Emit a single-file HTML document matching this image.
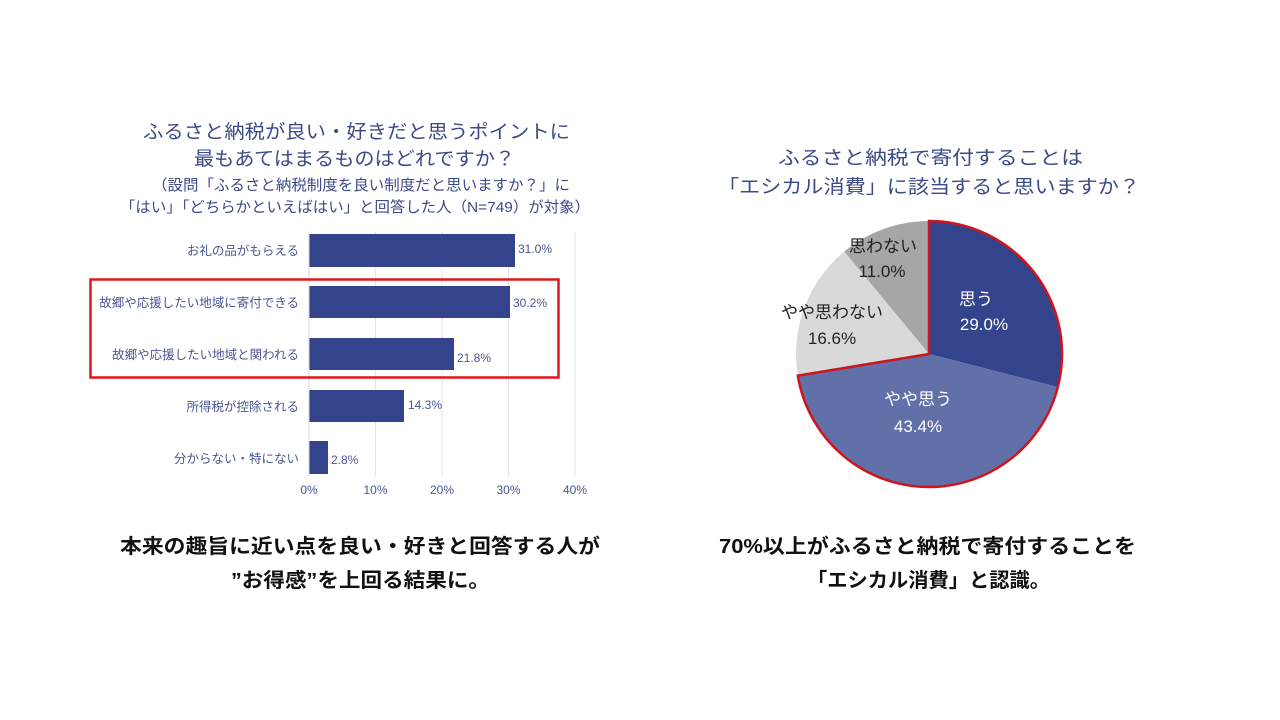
<!DOCTYPE html>
<html><head><meta charset="utf-8"><style>
html,body{margin:0;padding:0;background:#fff;}
svg{display:block;}
text{font-family:"Liberation Sans","Noto Sans CJK JP",sans-serif;}
.t{fill:#3d4a86;font-size:19px;}
.s{fill:#3d4a86;font-size:15px;}
.c{fill:#4a5590;font-size:12.5px;}
.v{fill:#4a5590;font-size:12px;}
.b{fill:#111;font-size:20px;font-weight:bold;}
.p{font-size:17px;}
</style></head><body>
<svg width="1280" height="720" viewBox="0 0 1280 720">
<rect width="1280" height="720" fill="#fff"/>
<!-- left titles -->
<text class="t" x="143" y="138" textLength="427" lengthAdjust="spacingAndGlyphs">ふるさと納税が良い・好きだと思うポイントに</text>
<text class="t" x="194" y="165" textLength="321" lengthAdjust="spacingAndGlyphs">最もあてはまるものはどれですか？</text>
<text class="s" x="152" y="190" textLength="418" lengthAdjust="spacingAndGlyphs">（設問「ふるさと納税制度を良い制度だと思いますか？」に</text>
<text class="s" x="120" y="212" textLength="470" lengthAdjust="spacingAndGlyphs">「はい」「どちらかといえばはい」と回答した人（N=749）が対象）</text>
<!-- grid -->
<g stroke="#e3e3e8" stroke-width="1">
<line x1="375.5" y1="232" x2="375.5" y2="476"/><line x1="442" y1="232" x2="442" y2="476"/>
<line x1="508.5" y1="232" x2="508.5" y2="476"/><line x1="575" y1="232" x2="575" y2="476"/>
</g>
<g fill="#33438c">
<rect x="309" y="234" width="206" height="33"/>
<rect x="309" y="286" width="201" height="32"/>
<rect x="309" y="338" width="145" height="32"/>
<rect x="309" y="390" width="95" height="32"/>
<rect x="309" y="441" width="19" height="33"/>
</g>
<line x1="309" y1="232" x2="309" y2="476" stroke="#d8d8de"/>
<g text-anchor="end">
<text class="c" x="299" y="255">お礼の品がもらえる</text>
<text class="c" x="299" y="307">故郷や応援したい地域に寄付できる</text>
<text class="c" x="299" y="359">故郷や応援したい地域と関われる</text>
<text class="c" x="299" y="411">所得税が控除される</text>
<text class="c" x="299" y="463">分からない・特にない</text>
</g>
<text class="v" x="518" y="253">31.0%</text>
<text class="v" x="513" y="307">30.2%</text>
<text class="v" x="457" y="362">21.8%</text>
<text class="v" x="408" y="409">14.3%</text>
<text class="v" x="331" y="464">2.8%</text>
<g text-anchor="middle">
<text class="v" x="309" y="494">0%</text><text class="v" x="375.5" y="494">10%</text>
<text class="v" x="442" y="494">20%</text><text class="v" x="508.5" y="494">30%</text>
<text class="v" x="575" y="494">40%</text>
</g>
<rect x="90.5" y="279.5" width="468" height="98" fill="none" stroke="#e0161c" stroke-width="2.5"/>
<!-- right title -->
<text class="t" x="778" y="164" textLength="305" lengthAdjust="spacingAndGlyphs">ふるさと納税で寄付することは</text>
<text class="t" x="718" y="193" textLength="422" lengthAdjust="spacingAndGlyphs">「エシカル消費」に該当すると思いますか？</text>
<!-- pie -->
<path d="M929,354 L844.2,251.5 A133,133 0 0 1 929,221 Z" fill="#a6a6a6"/>
<path d="M929,354 L797.8,375.7 A133,133 0 0 1 844.2,251.5 Z" fill="#d9d9d9"/>
<path d="M929,354 L929,221 A133,133 0 0 1 1057.8,387.1 Z" fill="#33438c"/>
<path d="M929,354 L1057.8,387.1 A133,133 0 0 1 797.8,375.7 Z" fill="#6270a9"/>
<path d="M929,354 L929,221 A133,133 0 1 1 797.8,375.7 Z" fill="none" stroke="#d0141c" stroke-width="2.5"/>
<g class="p" text-anchor="middle">
<text x="883" y="252" fill="#222" font-size="17">思わない</text>
<text x="882" y="277" fill="#222" font-size="17">11.0%</text>
<text x="832" y="318" fill="#222" font-size="17">やや思わない</text>
<text x="832" y="344" fill="#222" font-size="17">16.6%</text>
<text x="976" y="305" fill="#fff" font-size="17">思う</text>
<text x="984" y="330" fill="#fff" font-size="17">29.0%</text>
<text x="918" y="405" fill="#fff" font-size="17">やや思う</text>
<text x="918" y="432" fill="#fff" font-size="17">43.4%</text>
</g>
<!-- bottom -->
<text class="b" x="120" y="553" textLength="480" lengthAdjust="spacingAndGlyphs">本来の趣旨に近い点を良い・好きと回答する人が</text>
<text class="b" x="231" y="587" textLength="259" lengthAdjust="spacingAndGlyphs">”お得感”を上回る結果に。</text>
<text class="b" x="719" y="553" textLength="417" lengthAdjust="spacingAndGlyphs">70%以上がふるさと納税で寄付することを</text>
<text class="b" x="807" y="587" textLength="243" lengthAdjust="spacingAndGlyphs">「エシカル消費」と認識。</text>
</svg>
</body></html>
